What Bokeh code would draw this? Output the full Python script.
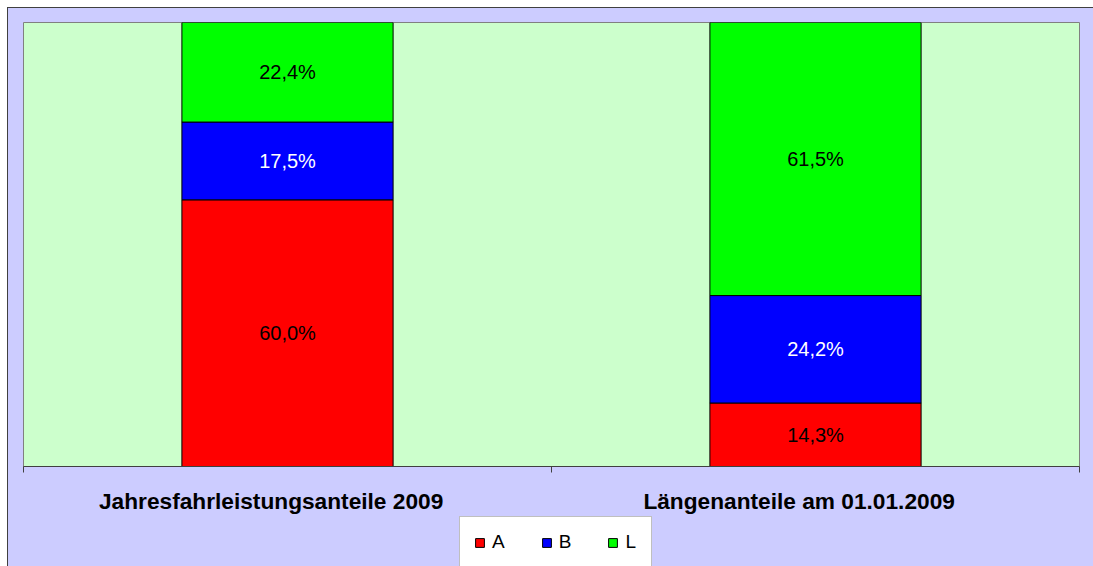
from bokeh.plotting import figure
from bokeh.layouts import column
from bokeh.models import ColumnDataSource, FixedTicker, Legend, LegendItem, Range1d
from bokeh.core.properties import value
from bokeh.embed import file_html
from bokeh.resources import INLINE

# ---- data ----
categories = ["Jahresfahrleistungsanteile 2009", "Längenanteile am 01.01.2009"]
series_names = ["A", "B", "L"]
A = [60.0, 14.3]
B = [17.5, 24.2]
L = [22.4, 61.5]
series_colors = ["#FF0000", "#0000FF", "#00FF00"]
label_colors = ["black", "white", "black"]

# 100% stacked: normalise each category
totals = [a + b + l for a, b, l in zip(A, B, L)]
xpos = [i + 0.5 for i in range(len(categories))]
src = ColumnDataSource(dict(
    x=xpos,
    A=[v / t * 100 for v, t in zip(A, totals)],
    B=[v / t * 100 for v, t in zip(B, totals)],
    L=[v / t * 100 for v, t in zip(L, totals)],
))

FONT = "Liberation Sans"
OUTER = "#CCCCFF"

p = figure(width=1085, height=508, output_backend="svg", toolbar_location=None,
           x_range=Range1d(0, len(categories)), y_range=Range1d(0, 100),
           y_axis_location=None,
           min_border_left=15, min_border_top=14, min_border_right=14, min_border_bottom=42)
p.background_fill_color = "#CCFFCC"
p.border_fill_color = OUTER
p.outline_line_color = "#808080"
p.xgrid.visible = False
p.ygrid.visible = False

rends = p.vbar_stack(series_names, x="x", width=0.4, color=series_colors,
                     line_color="black", line_width=1, source=src)

# data labels
lx, ly, lt, lc = [], [], [], []
raw = {"A": A, "B": B, "L": L}
for i in range(len(categories)):
    base = 0.0
    for name, col in zip(series_names, label_colors):
        h = src.data[name][i]
        lx.append(xpos[i])
        ly.append(base + h / 2)
        lt.append(f"{raw[name][i]:.1f}".replace(".", ",") + "%")
        lc.append(col)
        base += h
lsrc = ColumnDataSource(dict(x=lx, y=ly, t=lt, c=lc))
p.text(x="x", y="y", text="t", text_color="c", source=lsrc,
       text_font=value(FONT), text_font_size="20px",
       text_align="center", text_baseline="middle")

# x axis: labels near category centres (slightly left, as in the original), ticks at boundaries
label_pos = [x - 0.031 for x in xpos]
ax = p.xaxis[0]
ax.ticker = FixedTicker(ticks=label_pos, minor_ticks=list(range(len(categories) + 1)))
ax.major_label_overrides = {x: c for x, c in zip(label_pos, categories)}
ax.major_tick_line_color = None
ax.major_tick_out = 0
ax.major_tick_in = 0
ax.minor_tick_line_color = "#404040"
ax.minor_tick_out = 6
ax.minor_tick_in = 0
ax.axis_line_color = "#404040"
ax.major_label_text_font = FONT
ax.major_label_text_font_style = "bold"
ax.major_label_text_font_size = "22.7px"
ax.major_label_text_color = "black"
ax.major_label_standoff = 15

# ---- legend strip ----
q = figure(width=1085, height=50, output_backend="svg", toolbar_location=None,
           x_range=Range1d(0, 1), y_range=Range1d(0, 1),
           x_axis_location=None, y_axis_location=None,
           min_border_left=0, min_border_top=0, min_border_right=0, min_border_bottom=0)
q.background_fill_color = OUTER
q.border_fill_color = OUTER
q.outline_line_color = OUTER
q.outline_line_width = 2
q.xgrid.visible = False
q.ygrid.visible = False
# legend proxies, kept outside the visible range
proxies = [q.quad(left=[2], right=[3], top=[1], bottom=[0], fill_color=c, line_color="black")
           for c in series_colors]

legend = Legend(items=[LegendItem(label=n, renderers=[r]) for n, r in zip(series_names, proxies)],
                orientation="horizontal", location=(436, -2))
legend.glyph_width = 11
legend.glyph_height = 11
legend.label_width = 12
legend.label_standoff = 7
legend.spacing = 36
legend.padding = 14
legend.margin = 0
legend.label_text_font = FONT
legend.label_text_font_size = "19px"
legend.label_text_color = "black"
legend.border_line_color = "#808080"
legend.background_fill_color = "white"
legend.background_fill_alpha = 1.0
q.add_layout(legend)

layout = column(p, q, spacing=0)
layout.styles = {"margin-left": "8px", "margin-top": "8px",
                 "outline": "1px solid #404040", "background-color": OUTER}

open("out.html", "w").write(file_html(layout, INLINE))
